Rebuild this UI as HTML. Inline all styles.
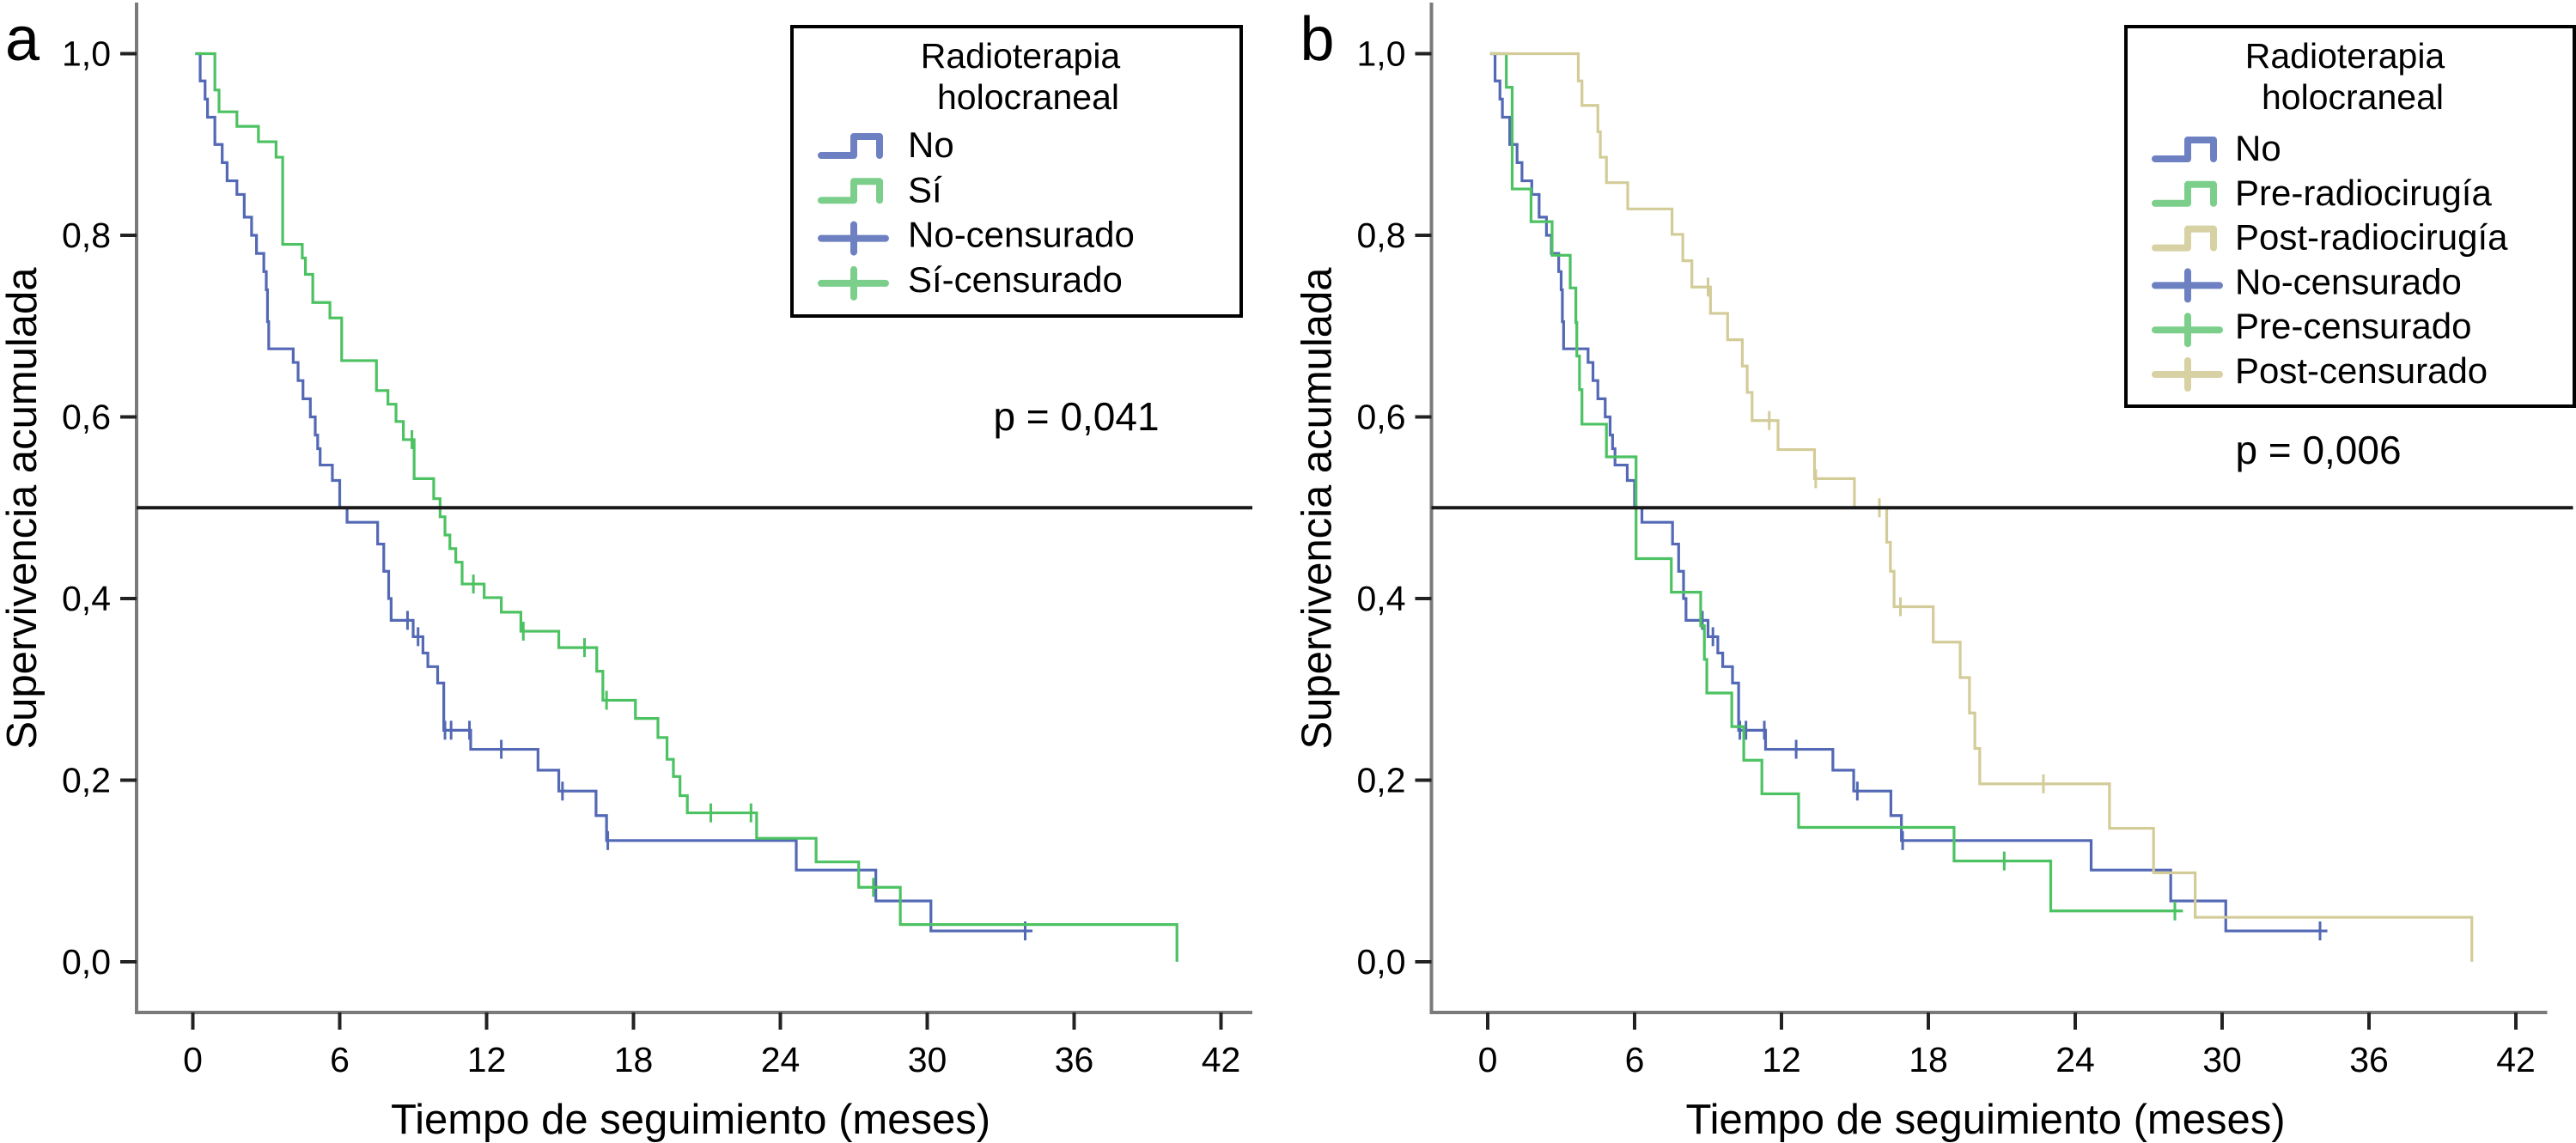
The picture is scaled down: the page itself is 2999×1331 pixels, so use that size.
<!DOCTYPE html>
<html><head><meta charset="utf-8">
<style>
html,body{margin:0;padding:0;background:#fff;}
svg{display:block;font-family:"Liberation Sans",Arial,sans-serif;}
</style></head>
<body>
<svg id="fig" width="2999" height="1331" viewBox="0 0 2999 1331" xmlns="http://www.w3.org/2000/svg">
  <rect x="0" y="0" width="2999" height="1331" fill="#fff"/>
  <g id="panelA"></g>
  <g id="panelB"></g>
</svg>
<script>
// ---------- data ----------
const xTicks = [0, 6, 12, 18, 24, 30, 36, 42];
const yTicks = [0, 0.2, 0.4, 0.6, 0.8, 1.0];
const yTickLabels = ["0,0", "0,2", "0,4", "0,6", "0,8", "1,0"];

// Panel a/b "No" (blue)
const noTimes = [0.3,0.5,0.6,0.9,1.2,1.4,1.8,2.1,2.4,2.6,2.9,3.0,3.05,3.1,4.1,4.3,4.5,4.8,5.0,5.1,5.2,5.7,6.0,6.3,7.55,7.8,8.0,8.1,9.0,9.4,9.6,10.0,10.25,11.35,14.1,14.95,16.47,16.9,24.65,27.9,30.15];
const noSurv  = [0.97,0.95,0.93,0.90,0.88,0.86,0.845,0.82,0.80,0.78,0.76,0.74,0.705,0.675,0.66,0.64,0.62,0.60,0.58,0.565,0.547,0.53,0.50,0.484,0.46,0.43,0.40,0.376,0.358,0.34,0.325,0.307,0.255,0.234,0.211,0.188,0.161,0.1335,0.101,0.067,0.034];
const noEnd = 34.3;
const noCens = [8.77,9.2,10.3,10.55,11.3,12.6,15.1,16.95,34.0];

// Panel a "Sí" (green)
const siTimes = [0.9,1.07,1.8,2.68,3.4,3.67,4.47,4.6,4.9,5.6,6.08,7.5,7.97,8.3,8.6,9.04,9.84,10.1,10.3,10.5,10.74,11.0,11.9,12.6,13.4,14.95,16.5,16.75,18.08,19.0,19.37,19.63,19.9,20.2,23.03,25.46,27.2,28.9,40.2];
const siSurv  = [0.96,0.936,0.92,0.903,0.886,0.79,0.775,0.757,0.726,0.709,0.662,0.629,0.614,0.595,0.575,0.532,0.51,0.49,0.47,0.455,0.44,0.416,0.401,0.385,0.364,0.346,0.32,0.288,0.268,0.247,0.223,0.204,0.183,0.164,0.136,0.11,0.082,0.041,0.0];
const siEnd = 40.2;
const siCens = [8.95,11.46,13.5,16.0,16.9,21.16,22.8,27.8];

// Panel b "Pre-radiocirugía" (green)
const preTimes = [0.76,1.0,1.77,2.63,3.37,3.6,3.64,3.75,3.85,4.85,6.06,7.5,8.7,8.85,8.95,9.97,10.46,11.2,12.7,19.05,23.0];
const preSurv  = [0.963,0.851,0.815,0.778,0.742,0.704,0.667,0.63,0.592,0.556,0.444,0.407,0.37,0.333,0.296,0.259,0.222,0.185,0.148,0.111,0.056];
const preEnd = 28.4;
const preCens = [21.1,28.07];

// Panel b "Post-radiocirugía" (tan)
const postTimes = [3.7,3.85,4.5,4.6,4.85,5.72,7.53,7.97,8.34,9.1,9.8,10.4,10.6,10.8,11.86,13.35,14.98,16.3,16.45,16.6,18.2,19.3,19.68,19.9,20.1,25.4,27.2,28.9,40.2];
const postSurv  = [0.97,0.943,0.914,0.886,0.858,0.829,0.801,0.772,0.743,0.714,0.685,0.656,0.627,0.596,0.564,0.532,0.5,0.462,0.43,0.391,0.352,0.313,0.274,0.235,0.196,0.147,0.098,0.049,0.0];
const postEnd = 40.2;
const postCens = [9.0,11.5,13.4,16.0,16.86,22.7];

// ---------- drawing ----------
const NS = "http://www.w3.org/2000/svg";
const COL_BLUE = "#5369b5", COL_GREEN = "#4cc262", COL_TAN = "#d3cc98";
const LEG_BLUE = "#6d80c2", LEG_GREEN = "#7ccf8b", LEG_TAN = "#d8d1a3";

function mk(tag, attrs, parent) {
  const e = document.createElementNS(NS, tag);
  for (const k in attrs) e.setAttribute(k, attrs[k]);
  parent.appendChild(e);
  return e;
}

function survAt(times, surv, t) {
  let v = 1;
  for (let i = 0; i < times.length; i++) if (times[i] <= t) v = surv[i];
  return v;
}

function drawPanel(g, ox, letter, series, legendCfg, pText, pX, pY) {
  const xS = t => ox + 224.5 + t * 28.5;
  const yS = v => 1120 - v * 1057.5;
  const axisX = ox + 159;

  const L = mk("text", {x: ox + 6, y: 70, "font-size": 72}, g);
  L.textContent = letter;
  
  

  const ya = mk("line", {x1: axisX, y1: 3, x2: axisX, y2: 1181, stroke: "#7a7a7a", "stroke-width": 4}, g);
  
  
  const xa = mk("line", {x1: axisX - 2, y1: 1179, x2: ox + 1458, y2: 1179, stroke: "#7a7a7a", "stroke-width": 4}, g);
  
  

  yTicks.forEach((v, i) => {
    const tk = mk("line", {x1: axisX - 19, y1: yS(v), x2: axisX, y2: yS(v), stroke: "#222", "stroke-width": 4}, g);
    
    
    const tl = mk("text", {x: ox + 129, y: yS(v) + 14, "font-size": 41, "text-anchor": "end"}, g);
    tl.textContent = yTickLabels[i];
    
    
  });
  xTicks.forEach(t => {
    const tk = mk("line", {x1: xS(t), y1: 1179, x2: xS(t), y2: 1199, stroke: "#222", "stroke-width": 4}, g);
    
    
    const tl = mk("text", {x: xS(t), y: 1248, "font-size": 41, "text-anchor": "middle"}, g);
    tl.textContent = String(t);
    
    
  });

  const xt = mk("text", {x: ox + 804, y: 1320, "font-size": 49, "text-anchor": "middle"}, g);
  xt.textContent = "Tiempo de seguimiento (meses)";
  
  
  const yt = mk("text", {x: 0, y: 0, "font-size": 49, "text-anchor": "middle", transform: `translate(${ox + 42},592) rotate(-90)`}, g);
  yt.textContent = "Supervivencia acumulada";
  
  

  series.forEach(s => {
    let d = `M${xS(0.1)},${yS(1)}`;
    for (let i = 0; i < s.times.length; i++) {
      d += ` H${xS(s.times[i])} V${yS(s.surv[i])}`;
    }
    d += ` H${xS(s.end)}`;
    const p = mk("path", {d: d, fill: "none", stroke: s.color, "stroke-width": 3.2}, g);
    
    
    s.cens.forEach(tc => {
      const v = survAt(s.times, s.surv, tc);
      const c = mk("line", {x1: xS(tc), y1: yS(v) - 11, x2: xS(tc), y2: yS(v) + 11, stroke: s.color, "stroke-width": 3}, g);
      
      
    });
  });

  const hl = mk("line", {x1: axisX, y1: yS(0.5), x2: ox + legendCfg.hlEnd, y2: yS(0.5), stroke: "#1a1a1a", "stroke-width": 4}, g);
  
  

  const pt = mk("text", {x: pX, y: pY, "font-size": 46, "text-anchor": "middle"}, g);
  pt.textContent = pText;
  
  

  const lg = mk("g", {}, g);
  
  
  const c = legendCfg;
  mk("rect", {x: c.x, y: c.y, width: c.w, height: c.h, fill: "#fff", stroke: "#000", "stroke-width": 4}, lg);
  const t1 = mk("text", {x: c.titleX, y: 79, "font-size": 41, "text-anchor": "middle"}, lg);
  t1.textContent = "Radioterapia";
  
  
  const t2 = mk("text", {x: c.titleX + 9, y: 127, "font-size": 41, "text-anchor": "middle"}, lg);
  t2.textContent = "holocraneal";
  
  
  c.items.forEach((it, i) => {
    const cy = c.firstY + i * c.step;
    const sx = c.symX;
    if (it.type === "step") {
      const sp = mk("path", {d: `M${sx},${cy + 13} H${sx + 38} V${cy - 9} H${sx + 68} V${cy + 13}`, fill: "none", stroke: it.color, "stroke-width": 8, "stroke-linecap": "round", "stroke-linejoin": "round"}, lg);
      
      
    } else {
      const cp = mk("path", {d: `M${sx},${cy + 5} H${sx + 75} M${sx + 38},${cy - 11} V${cy + 21}`, fill: "none", stroke: it.color, "stroke-width": 8, "stroke-linecap": "round"}, lg);
      
      
    }
    const tx = mk("text", {x: c.textX, y: cy + 15, "font-size": 42}, lg);
    tx.textContent = it.label;
    
    
  });
}

drawPanel(document.getElementById("panelA"), 0, "a",
  [
    {name: "no", times: noTimes, surv: noSurv, end: noEnd, cens: noCens, color: COL_BLUE},
    {name: "si", times: siTimes, surv: siSurv, end: siEnd, cens: siCens, color: COL_GREEN}
  ],
  {x: 922, y: 31, w: 523, h: 337, titleX: 1188, symX: 956, textX: 1057, firstY: 168, step: 52.3, hlEnd: 1458,
   items: [
     {type: "step", color: LEG_BLUE, label: "No"},
     {type: "step", color: LEG_GREEN, label: "Sí"},
     {type: "cens", color: LEG_BLUE, label: "No-censurado"},
     {type: "cens", color: LEG_GREEN, label: "Sí-censurado"}
   ]},
  "p = 0,041", 1253, 501);

drawPanel(document.getElementById("panelB"), 1507.5, "b",
  [
    {name: "no", times: noTimes, surv: noSurv, end: noEnd, cens: noCens, color: COL_BLUE},
    {name: "pre", times: preTimes, surv: preSurv, end: preEnd, cens: preCens, color: COL_GREEN},
    {name: "post", times: postTimes, surv: postSurv, end: postEnd, cens: postCens, color: COL_TAN}
  ],
  {x: 2475, y: 31, w: 522, h: 442, titleX: 2730, symX: 2509, textX: 2602, firstY: 172, step: 51.8, hlEnd: 1488,
   items: [
     {type: "step", color: LEG_BLUE, label: "No"},
     {type: "step", color: LEG_GREEN, label: "Pre-radiocirugía"},
     {type: "step", color: LEG_TAN, label: "Post-radiocirugía"},
     {type: "cens", color: LEG_BLUE, label: "No-censurado"},
     {type: "cens", color: LEG_GREEN, label: "Pre-censurado"},
     {type: "cens", color: LEG_TAN, label: "Post-censurado"}
   ]},
  "p = 0,006", 2699, 540);
</script>
</body></html>
